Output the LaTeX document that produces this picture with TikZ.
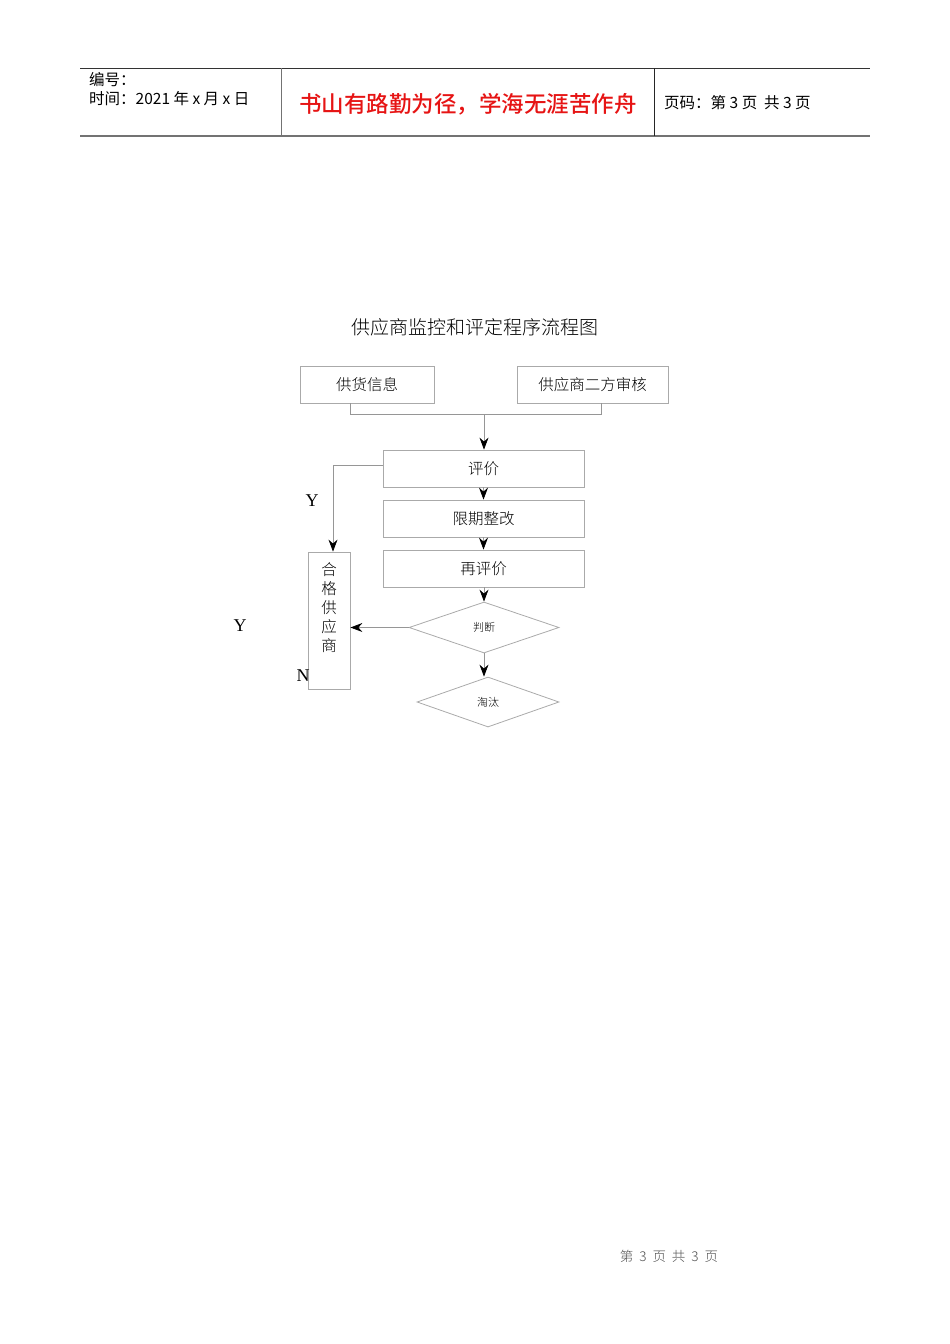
\documentclass[tikz,border=0pt]{standalone}
\usepackage{fontspec}
\setmainfont{Liberation Serif}
\newfontfamily\cjk{Noto Sans CJK SC}
\newfontfamily\cjkl{Noto Sans CJK SC Light}
\newfontfamily\cjkb{Noto Sans CJK SC Medium}
\usetikzlibrary{arrows.meta,shapes.geometric}
\definecolor{boxgray}{RGB}{170,170,170}
\definecolor{linegray}{RGB}{150,150,150}
\definecolor{hdred}{RGB}{230,20,20}
\tikzset{
  flowbox/.style={draw=boxgray,line width=0.8pt,inner sep=0pt,font=\cjkl\fontsize{15.5}{15.5}\selectfont},
  flowdia/.style={draw=boxgray,line width=0.8pt,diamond,inner sep=0pt,font=\cjkl\fontsize{11}{11}\selectfont},
  conn/.style={draw=linegray,line width=0.8pt},
  arr/.style={conn,-{Stealth[length=12pt,width=9pt,inset=4pt,color=black]}},
  yn/.style={font=\fontsize{18}{18}\selectfont}
}
\begin{document}
\begin{tikzpicture}[x=1pt,y=-1pt]
\useasboundingbox (0,0) rectangle (950,1344);
% header
\draw[black!80,line width=0.9pt] (80,68) -- (870,68);
\draw[black!55,line width=1.6pt] (80,136) -- (870,136);
\draw[black!55,line width=1pt] (281,68) -- (281,136);
\draw[black!85,line width=0.9pt] (654,68) -- (654,136);
\node[anchor=west,inner sep=0pt,font=\cjk\fontsize{15.5}{15.5}\selectfont] (hno) at (89,80) {编号：};
\node[anchor=west,inner sep=0pt,font=\cjk\fontsize{15.5}{15.5}\selectfont] (htime) at (89,99) {时间：2021\ 年\ x\ 月\ x\ 日};
\node[inner sep=0pt,text=hdred,font=\cjkb\fontsize{22.5}{22.5}\selectfont] (hmotto) at (468,104) {书山有路勤为径，学海无涯苦作舟};
\node[anchor=west,inner sep=0pt,font=\cjk\fontsize{15.5}{15.5}\selectfont] (hpage) at (664,103) {页码：第\ 3\ 页\ \ 共\ 3\ 页};
% title
\node[inner sep=0pt,font=\cjkl\fontsize{19}{19}\selectfont] (title) at (475,327) {供应商监控和评定程序流程图};
% boxes
\node[flowbox,minimum width=134pt,minimum height=37pt] (info) at (367,384.5) {供货信息};
\node[flowbox,minimum width=151pt,minimum height=37pt] (audit) at (592.5,384.5) {供应商二方审核};
\node[flowbox,minimum width=201pt,minimum height=37pt] (eval) at (483.5,468.5) {评价};
\node[flowbox,minimum width=201pt,minimum height=37pt] (fix) at (483.5,518.5) {限期整改};
\node[flowbox,minimum width=201pt,minimum height=37pt] (reeval) at (483.5,568.5) {再评价};
\node[flowbox,minimum width=42pt,minimum height=137pt] (qual) at (329,620.5) {};
\node[inner sep=0pt,align=center,font=\cjkl\fontsize{15.5}{19}\selectfont] (qualtext) at (329,608) {合\\格\\供\\应\\商};
\node[flowdia,minimum width=150pt,minimum height=51pt] (judge) at (484,627.5) {判断};
\node[flowdia,minimum width=142pt,minimum height=50pt] (elim) at (488,702) {淘汰};
% connectors
\coordinate (m1) at (350,414);
\coordinate (m2) at (601,414);
\coordinate (mj) at (484,414);
\draw[conn] (info.south -| m1) -- (m1) -- (m2) -- (audit.south -| m2);
\draw[arr] (mj) -- (eval.north -| mj);
\draw[arr] (eval) -- (fix);
\draw[arr] (fix) -- (reeval);
\draw[arr] (reeval.south -| judge.north) -- (judge.north);
\draw[arr] (judge.west) -- (judge.west -| qual.east);
\coordinate (e1) at (333,465);
\draw[arr] (eval.west |- e1) -- (e1) -- (qual.north -| e1);
\draw[arr] (judge.south) -- (judge.south |- elim.north);
% labels
\node[yn] (y1) at (312,501) {Y};
\node[yn] (y2) at (240,626) {Y};
\node[yn] (n1) at (303,676) {N};
% footer
\node[inner sep=0pt,text=black!70,font=\cjkl\fontsize{13.5}{13.5}\selectfont] (foot) at (669,1256) {第\ \ 3\ \ 页\ \ 共\ \ 3\ \ 页};
\end{tikzpicture}
\end{document}
